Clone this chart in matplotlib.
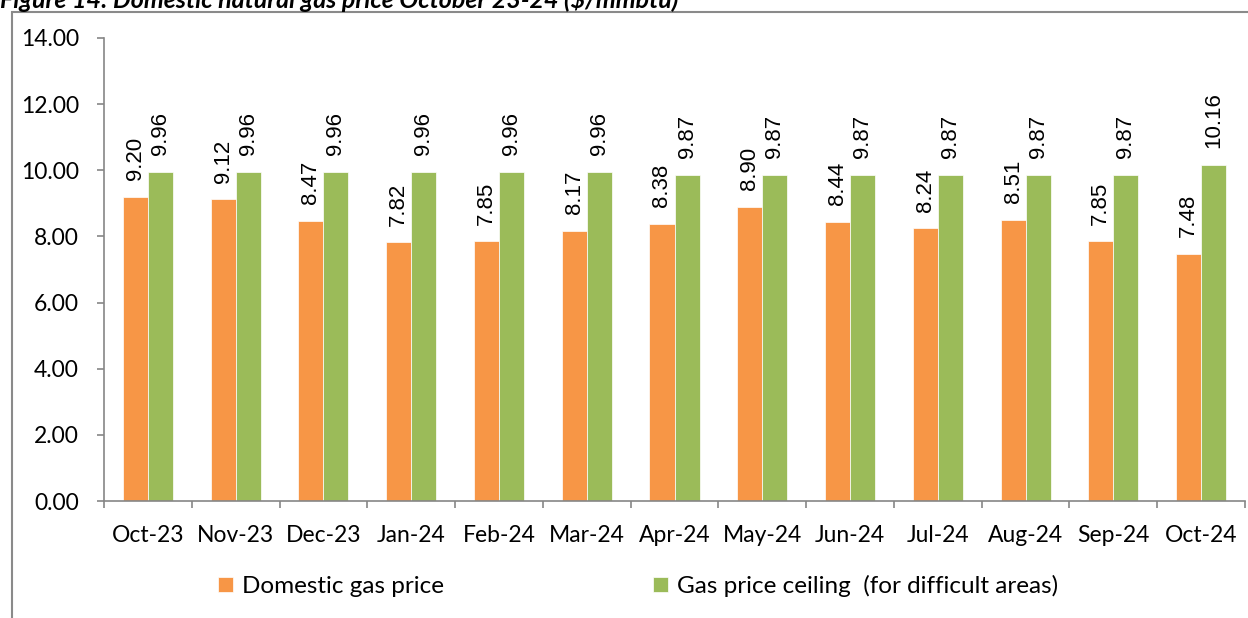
import matplotlib.pyplot as plt
import numpy as np
from matplotlib.patches import Rectangle

months = ['Oct-23', 'Nov-23', 'Dec-23', 'Jan-24', 'Feb-24', 'Mar-24', 'Apr-24',
          'May-24', 'Jun-24', 'Jul-24', 'Aug-24', 'Sep-24', 'Oct-24']
domestic = [9.20, 9.12, 8.47, 7.82, 7.85, 8.17, 8.38, 8.90, 8.44, 8.24, 8.51, 7.85, 7.48]
ceiling = [9.96, 9.96, 9.96, 9.96, 9.96, 9.96, 9.87, 9.87, 9.87, 9.87, 9.87, 9.87, 10.16]

W, H = 1248, 618
fig = plt.figure(figsize=(W / 100, H / 100), dpi=100)
ax = fig.add_axes([104 / W, 1 - 501 / H, 1141 / W, 463 / H])

x = np.arange(len(months))
bw = 0.285
orange = '#F79646'
green = '#9BBB59'
b1 = ax.bar(x - bw / 2, domestic, bw, color=orange, edgecolor='white', linewidth=0.5,
            label='Domestic gas price')
b2 = ax.bar(x + bw / 2, ceiling, bw, color=green, edgecolor='white', linewidth=0.5,
            label='Gas price ceiling  (for difficult areas)')

for bars, vals in ((b1, domestic), (b2, ceiling)):
    for rect, v in zip(bars, vals):
        ax.annotate(f'{v:.2f}', (rect.get_x() + rect.get_width() / 2, v),
                    xytext=(0, 12), textcoords='offset points', rotation=90,
                    ha='center', va='bottom', fontsize=16, family='Liberation Sans')

ax.set_ylim(0, 14)
ax.set_xlim(-0.5, len(months) - 0.5)
ax.set_yticks(np.arange(0, 15, 2))
ax.set_yticklabels([f'{v:.2f}' for v in np.arange(0, 15, 2)], fontsize=16.5, family='Lato')
ax.set_xticks(np.arange(-0.5, len(months), 1))
ax.set_xticklabels([])
ax.set_xticks(x, minor=True)
ax.set_xticklabels(months, minor=True, fontsize=16.5, family='Lato')
ax.tick_params(axis='x', which='minor', length=0, pad=17)
ax.tick_params(axis='both', which='major', length=5, width=1.2, color='#868686')
ax.tick_params(axis='y', pad=13)

for s in ('top', 'right'):
    ax.spines[s].set_visible(False)
for s in ('left', 'bottom'):
    ax.spines[s].set_color('#868686')
    ax.spines[s].set_linewidth(1.2)

fig.legend(handles=[b1, b2], loc='center', bbox_to_anchor=(638 / W, 1 - 586 / H),
           ncol=2, frameon=False, prop={'family': 'Lato', 'size': 17.5},
           handlelength=0.62, handleheight=0.62, handletextpad=0.35, columnspacing=8.6)

fig.patches.append(Rectangle((12 / W, -0.1), 1.2, 1.1 - 12 / H, transform=fig.transFigure,
                             fill=False, edgecolor='#8a8a8a', linewidth=1.5))

fig.text(0, 1 - 8 / H, 'Figure 14: Domestic natural gas price October 23-24 ($/mmbtu)',
         fontsize=18, fontweight='bold', fontstyle='italic', family='Lato', va='baseline')

fig.savefig('out.png', dpi=100)
